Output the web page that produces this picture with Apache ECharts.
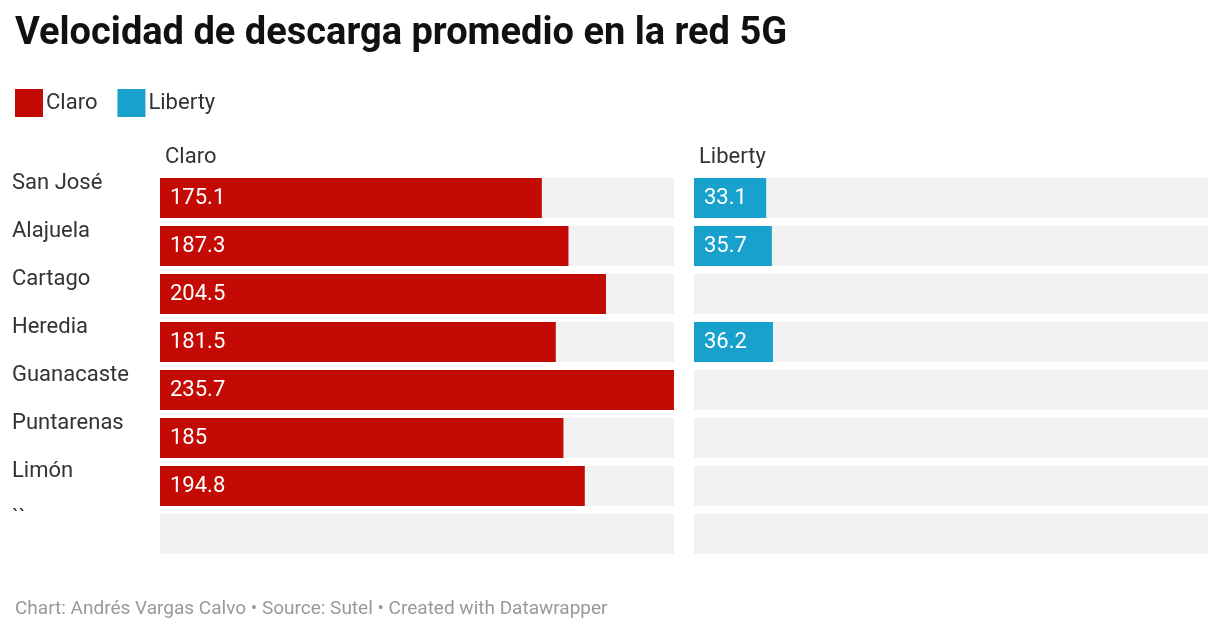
<!DOCTYPE html>
<html>
<head>
<meta charset="utf-8">
<script src="https://cdn.jsdelivr.net/npm/echarts@6/dist/echarts.min.js"></script>
<style>body{margin:0;background:#fff}#c{width:1220px;height:630px}</style>
</head>
<body>
<div id="c"></div>
<script>
var regions = ['San José', 'Alajuela', 'Cartago', 'Heredia', 'Guanacaste', 'Puntarenas', 'Limón', '``'];
var claro = [175.1, 187.3, 204.5, 181.5, 235.7, 185, 194.8, null];
var liberty = [33.1, 35.7, null, 36.2, null, null, null, null];
var maxVal = 235.7;
var bg = regions.map(function () { return maxVal; });

var chart = echarts.init(document.getElementById('c'));
var font = 'Roboto';

function grid(left) {
    return { left: left, top: 174, width: 514, height: 384 };
}
function xAxis(i) {
    return { gridIndex: i, type: 'value', min: 0, max: maxVal, show: false };
}
function yAxis(i) {
    return {
        gridIndex: i, type: 'category', data: regions, inverse: true,
        axisLine: { show: false }, axisTick: { show: false },
        axisLabel: {
            show: i === 0, margin: 148, align: 'left',
            fontFamily: font, fontSize: 22, color: '#333', verticalAlign: 'bottom', lineHeight: 26, padding: [0, 0, 2, 0]
        }
    };
}
function series(i, data, color) {
    return [{
        type: 'bar', xAxisIndex: i, yAxisIndex: i, data: bg, barWidth: 40, silent: true,
        itemStyle: { color: '#f2f2f2' }, barGap: '-100%', z: 1
    }, {
        type: 'bar', xAxisIndex: i, yAxisIndex: i, data: data, barWidth: 40, z: 2,
        itemStyle: { color: color },
        label: { show: true, position: 'insideLeft', distance: 10, color: '#fff', fontFamily: font, fontSize: 22 }
    }];
}

chart.setOption({
    animation: false,
    title: [
        { text: 'Velocidad de descarga promedio en la red 5G', left: 10, top: 10,
          textStyle: { fontFamily: font, fontSize: 38, fontWeight: 'bold', color: '#111' } },
        { text: 'Claro', left: 160, top: 141, textStyle: { fontFamily: font, fontSize: 22, fontWeight: 'normal', color: '#333' } },
        { text: 'Liberty', left: 694, top: 141, textStyle: { fontFamily: font, fontSize: 22, fontWeight: 'normal', color: '#333' } },
        { text: 'Chart: Andrés Vargas Calvo • Source: Sutel • Created with Datawrapper', left: 10, top: 595,
          textStyle: { fontFamily: font, fontSize: 19, fontWeight: 'normal', color: '#999' } }
    ],
    legend: {
        left: 10, top: 84, itemWidth: 28, itemHeight: 28, itemGap: 20, icon: 'rect',
        data: ['Claro', 'Liberty'],
        textStyle: { fontFamily: font, fontSize: 22, color: '#333', padding: [0, 0, 0, -2] }
    },
    grid: [grid(160), grid(694)],
    xAxis: [xAxis(0), xAxis(1)],
    yAxis: [yAxis(0), yAxis(1)],
    series: (function () {
        var a = series(0, claro, '#c30a04');
        var b = series(1, liberty, '#18a1cd');
        a[1].name = 'Claro'; b[1].name = 'Liberty';
        return a.concat(b);
    })()
});
</script>
</body>
</html>
